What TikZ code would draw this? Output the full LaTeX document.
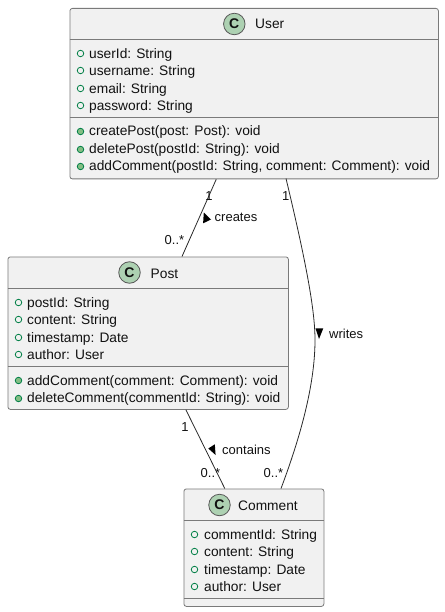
\documentclass[tikz,border=0pt]{standalone}
\usepackage{fontspec}
\setmainfont{Liberation Sans}
\definecolor{boxfill}{HTML}{F1F1F1}
\definecolor{boxline}{HTML}{7A7A7A}
\definecolor{spot}{HTML}{ADD1B2}
\definecolor{visline}{HTML}{038048}
\definecolor{visfill}{HTML}{84BE84}
\definecolor{ink}{HTML}{111111}
\tikzset{
  x=1pt,y=-1pt,
  classbox/.style={draw=boxline,fill=boxfill,line width=.8pt,rounded corners=2.5pt,rectangle,inner sep=0pt,anchor=north west},
  sepline/.style={draw=boxline,line width=.8pt},
  spotc/.style={circle,draw=ink!70,fill=spot,line width=.8pt,minimum size=21.5pt,inner sep=0pt,font=\fontsize{14}{14}\selectfont\bfseries,text=ink},
  title/.style={anchor=base west,inner sep=0pt,font=\fontsize{13.75}{14}\selectfont,text=ink},
  member/.style={anchor=base west,inner sep=0pt,font=\fontsize{13.75}{14}\selectfont,text=ink},
  attrdot/.style={circle,draw=visline,fill=none,line width=.8pt,minimum size=6.5pt,inner sep=0pt},
  methdot/.style={circle,draw=visline,fill=visfill,line width=.8pt,minimum size=6.5pt,inner sep=0pt},
  link/.style={draw=ink!90,line width=.8pt},
  lab/.style={anchor=base,inner sep=0pt,font=\fontsize{13}{13}\selectfont,text=ink},
  dirmark/.style={fill=black,draw=none},
}
\begin{document}
\begin{tikzpicture}
\useasboundingbox (0,0) rectangle (444,612);
% boxes
\node[classbox,minimum width=368.5pt,minimum height=170.5pt] (user) at (69.5,8) {};
\node[classbox,minimum width=280.5pt,minimum height=152.5pt] (post) at (7.5,256.5) {};
\node[classbox,minimum width=140pt,minimum height=117.5pt] (comment) at (183.5,488.5) {};
% connectors
\coordinate (wa) at (286,178.5);
\coordinate (wb) at (281,488.5);
\draw[link] (user) -- (post);
\draw[link] (post) -- (comment);
\draw[link] (wa) .. controls (306,262) and (315,310) .. (315,340) .. controls (315,385) and (300,438) .. (wb);
% separators
\draw[sepline] (69.5,39.5) -- (438,39.5) (69.5,117) -- (438,117);
\draw[sepline] (7.5,288) -- (288,288) (7.5,366.5) -- (288,366.5);
\draw[sepline] (183.5,520) -- (323.5,520) (183.5,598) -- (323.5,598);
% User
\node[spotc] (us) at (234.3,24) {C};
\node[title] (ut) at (255,29) {User};
\node[attrdot] (ua1) at (80.5,53.5) {}; \node[member] (ut1) at (89,58.3) {userId: String};
\node[attrdot] (ua2) at (80.5,70.5) {}; \node[member] (ut2) at (89,75.7) {username: String};
\node[attrdot] (ua3) at (80.5,88.5) {}; \node[member] (ut3) at (89,93.3) {email: String};
\node[attrdot] (ua4) at (80.5,105.5) {}; \node[member] (ut4) at (89,110.7) {password: String};
\node[methdot] (um1) at (80.5,131.5) {}; \node[member] (ut5) at (89,136) {createPost(post: Post): void};
\node[methdot] (um2) at (80.5,149.5) {}; \node[member] (ut6) at (89,154) {deletePost(postId: String): void};
\node[methdot] (um3) at (80.5,166.5) {}; \node[member] (ut7) at (89,171) {addComment(postId: String, comment: Comment): void};
% Post
\node[spotc] (ps) at (129.5,272.5) {C};
\node[title] (pt) at (150.5,278) {Post};
\node[attrdot] (pa1) at (18.5,302.5) {}; \node[member] (pt1) at (27,307.3) {postId: String};
\node[attrdot] (pa2) at (18.5,319.5) {}; \node[member] (pt2) at (27,324.7) {content: String};
\node[attrdot] (pa3) at (18.5,337.5) {}; \node[member] (pt3) at (27,342.3) {timestamp: Date};
\node[attrdot] (pa4) at (18.5,354.5) {}; \node[member] (pt4) at (27,359.5) {author: User};
\node[methdot] (pm1) at (18.5,380.5) {}; \node[member] (pt5) at (27,385) {addComment(comment: Comment): void};
\node[methdot] (pm2) at (18.5,398.5) {}; \node[member] (pt6) at (27,402.8) {deleteComment(commentId: String): void};
% Comment
\node[spotc] (cs) at (219.5,505) {C};
\node[title] (ct) at (238,510.3) {Comment};
\node[attrdot] (ca1) at (194.5,534.5) {}; \node[member] (ct1) at (204,539.3) {commentId: String};
\node[attrdot] (ca2) at (194.5,551.5) {}; \node[member] (ct2) at (204,556.5) {content: String};
\node[attrdot] (ca3) at (194.5,569.5) {}; \node[member] (ct3) at (204,574) {timestamp: Date};
\node[attrdot] (ca4) at (194.5,586.5) {}; \node[member] (ct4) at (204,591.4) {author: User};
% labels
\node[lab] (l1) at (209,200.5) {1};
\node[lab] (l2) at (174.5,244.5) {0..*};
\node[lab,anchor=base west] (l3) at (214.5,222) {creates};
\node[lab] (l4) at (285.7,200.3) {1};
\node[lab,anchor=base west] (l5) at (329,338) {writes};
\node[lab] (l6) at (273.5,477.5) {0..*};
\node[lab] (l7) at (185,431.5) {1};
\node[lab] (l8) at (210.5,477.5) {0..*};
\node[lab,anchor=base west] (l9) at (222,454.5) {contains};
% direction marks
\fill[dirmark] (203.8,212.5) -- (211,219.5) -- (203.1,223.3) -- cycle;
\fill[dirmark] (315.5,328.3) -- (323.3,328.3) -- (319,339) -- cycle;
\fill[dirmark] (208.3,448.5) -- (214.8,444.3) -- (215.6,455) -- cycle;
\end{tikzpicture}
\end{document}
